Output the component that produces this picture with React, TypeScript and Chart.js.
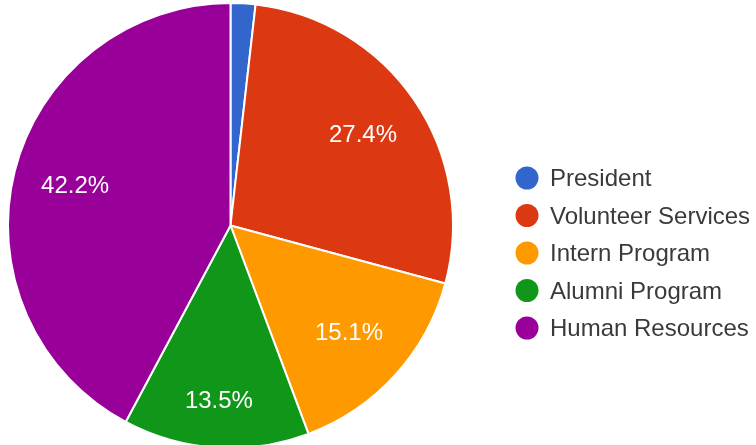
import React, { useEffect, useRef } from "react";
import { Chart, registerables } from "chart.js";

Chart.register(...registerables);

const categories = ["President", "Volunteer Services", "Intern Program", "Alumni Program", "Human Resources"];
const values = [1.8, 27.4, 15.1, 13.5, 42.2];
const valueLabels = ["", "27.4%", "15.1%", "13.5%", "42.2%"];
const colors = ["#3366cc", "#dc3912", "#ff9900", "#109618", "#990099"];

const FONT = '"Liberation Sans", Arial, sans-serif';
const labelRadius = [0.72, 0.72, 0.72, 0.79, 0.72];

const sliceLabelPlugin = {
  id: "sliceLabels",
  afterDatasetsDraw(chart: any) {
    const ctx = chart.ctx;
    const meta = chart.getDatasetMeta(0);
    ctx.save();
    ctx.fillStyle = "#ffffff";
    ctx.font = `24px ${FONT}`;
    ctx.textAlign = "center";
    ctx.textBaseline = "middle";
    meta.data.forEach((arc: any, i: number) => {
      const text = valueLabels[i];
      if (!text) return;
      const { x, y, startAngle, endAngle, outerRadius } = arc.getProps(
        ["x", "y", "startAngle", "endAngle", "outerRadius"],
        true
      );
      const mid = (startAngle + endAngle) / 2;
      const r = outerRadius * labelRadius[i];
      ctx.fillText(text, x + Math.cos(mid) * r, y + Math.sin(mid) * r);
    });
    ctx.restore();
  },
};

const legendPlugin = {
  id: "customLegend",
  afterDraw(chart: any) {
    const ctx = chart.ctx;
    const labels = chart.data.labels as string[];
    const bg = chart.data.datasets[0].backgroundColor as string[];
    const x0 = 527;
    const y0 = 178;
    const step = 37.5;
    ctx.save();
    ctx.font = `24px ${FONT}`;
    ctx.textAlign = "left";
    ctx.textBaseline = "alphabetic";
    labels.forEach((lab, i) => {
      const cy = y0 + i * step;
      ctx.beginPath();
      ctx.arc(x0, cy, 11.5, 0, Math.PI * 2);
      ctx.fillStyle = bg[i];
      ctx.fill();
      ctx.fillStyle = "#3a3a3a";
      ctx.fillText(lab, 550, cy + 8);
    });
    ctx.restore();
  },
};

export default function App() {
  const ref = useRef<HTMLCanvasElement | null>(null);

  useEffect(() => {
    document.body.style.margin = "0";
    document.body.style.background = "#ffffff";
    const canvas = ref.current;
    if (!canvas) return;
    const chart = new Chart(canvas, {
      type: "pie",
      data: {
        labels: categories,
        datasets: [
          {
            data: values,
            backgroundColor: colors,
            borderColor: "#ffffff",
            borderWidth: 2,
          },
        ],
      },
      options: {
        responsive: false,
        animation: false,
        layout: { padding: { left: 7, right: 302, top: 2, bottom: 3 } },
        plugins: {
          legend: { display: false },
          tooltip: { enabled: false },
          title: { display: false },
        },
      },
      plugins: [sliceLabelPlugin, legendPlugin],
    });
    return () => chart.destroy();
  }, []);

  return (
    <div style={{ width: 756, height: 445, overflow: "hidden", background: "#fff" }}>
      <canvas ref={ref} width={756} height={452} style={{ display: "block" }} />
    </div>
  );
}
